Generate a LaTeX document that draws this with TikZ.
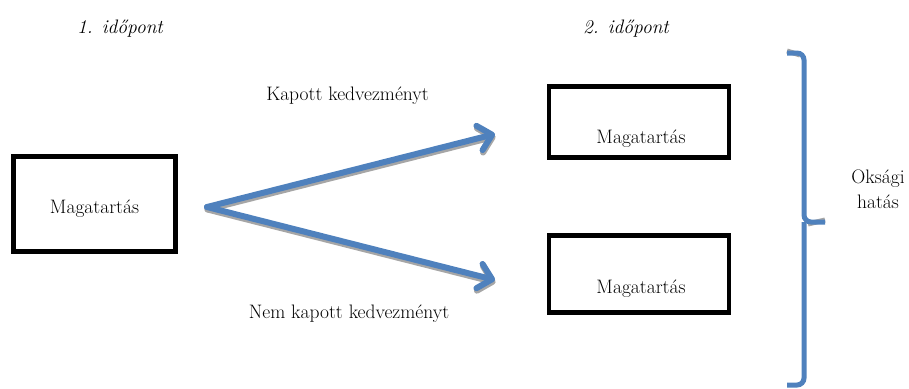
\documentclass[tikz,border=0pt]{standalone}
\usetikzlibrary{arrows.meta}
\definecolor{flowblue}{HTML}{4F81BD}
\definecolor{shadowgray}{HTML}{A6A6A6}
\tikzset{
  stagebox/.style={draw=black, line width=4.8pt, inner sep=0pt, fill=white},
  boxtext/.style={anchor=base, inner sep=0pt},
  flowarrow/.style={draw=flowblue, line width=6pt, line cap=round,
    -{Straight Barb[length=13pt, width=25pt, line cap=round, line join=round]}},
  flowshadow/.style={draw=shadowgray, line width=6pt, line cap=round,
    -{Straight Barb[length=13pt, width=25pt, line cap=round, line join=round]}},
  bracepath/.style={draw=flowblue, line width=5pt, rounded corners=7pt},
  braceshadow/.style={draw=shadowgray, line width=5pt, rounded corners=7pt},
  plain/.style={inner sep=0pt, anchor=base},
  heading/.style={plain, font=\fontsize{19.5}{24}\selectfont\itshape},
}
\begin{document}
\begin{tikzpicture}[x=1pt, y=-1pt, font=\fontsize{19.5}{25}\selectfont]
  \useasboundingbox (0,0) rectangle (909,388);

  % time headings
  \node[heading] (t1) at (120,33) {1. időpont};
  \node[heading] (t2) at (626,33) {2. időpont};

  % behaviour boxes
  \node[stagebox, minimum width=162pt, minimum height=95pt] (b0) at (94.5,204) {};
  \node[stagebox, minimum width=180pt, minimum height=71pt] (b1) at (639,122) {};
  \node[stagebox, minimum width=180pt, minimum height=77pt] (b2) at (639,274) {};
  \node[boxtext] (l0) at (94.5,213) {Magatartás};
  \node[boxtext] (l1) at (641,143) {Magatartás};
  \node[boxtext] (l2) at (641,293) {Magatartás};

  % branching arrows
  \coordinate (apex) at (207,207);
  \coordinate (tipA) at (495,134);
  \coordinate (tipB) at (495,280);
  \draw[flowshadow] ([shift={(0.5,2.5)}]apex) -- ([shift={(0.5,2.5)}]tipA);
  \draw[flowshadow] ([shift={(0.5,2.5)}]apex) -- ([shift={(0.5,2.5)}]tipB);
  \draw[flowarrow] (apex) -- (tipA);
  \draw[flowarrow] (apex) -- (tipB);

  \node[plain] (kA) at (347.5,100) {Kapott kedvezményt};
  \node[plain] (kB) at (349,318) {Nem kapott kedvezményt};

  % right brace
  \coordinate (bt) at (787,53);
  \coordinate (bm) at (825,222);
  \coordinate (bb) at (787,385);
  \draw[braceshadow] ([yshift=2pt]bt) -- (800,55);
  \draw[braceshadow] (808,224) -- ([yshift=2pt]bm);
  \draw[bracepath] (bt) -| (804,222) -- (bm);
  \draw[bracepath] (804,222) |- (bb);

  \node[align=center, inner sep=0pt, anchor=base] (cause) at (878,208) {Oksági\\hatás};
\end{tikzpicture}
\end{document}
